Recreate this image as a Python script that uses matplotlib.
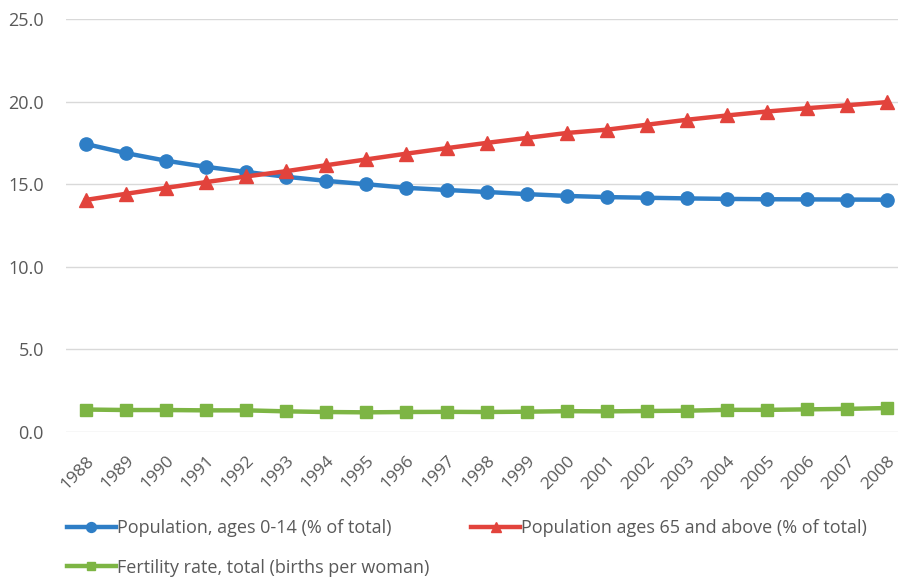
import matplotlib.pyplot as plt

plt.rcParams['font.family'] = ['Open Sans', 'DejaVu Sans']

years = list(range(1988, 2009))
ages_0_14 = [17.43, 16.88, 16.42, 16.05, 15.74, 15.45, 15.20, 15.00, 14.78, 14.65,
             14.53, 14.40, 14.29, 14.22, 14.18, 14.14, 14.11, 14.09, 14.08, 14.07, 14.06]
ages_65 = [14.05, 14.42, 14.78, 15.13, 15.47, 15.79, 16.15, 16.50, 16.85, 17.18,
           17.50, 17.80, 18.10, 18.30, 18.60, 18.90, 19.16, 19.40, 19.60, 19.78, 19.97]
fertility = [1.36, 1.33, 1.33, 1.31, 1.31, 1.25, 1.21, 1.19, 1.21, 1.22,
             1.21, 1.23, 1.26, 1.25, 1.27, 1.29, 1.34, 1.34, 1.37, 1.40, 1.45]

blue = '#2e7ec6'
red = '#e2433c'
green = '#7db544'
grey = '#595959'

fig = plt.figure(figsize=(8.98, 5.81), dpi=100)
ax = fig.add_axes([66 / 898, 1 - 432 / 581, 1 - 66 / 898, (432 - 19) / 581])

l1, = ax.plot(years, ages_0_14, '-o', color=blue, lw=3.2, ms=9.5,
              label='Population, ages 0-14 (% of total)')
l2, = ax.plot(years, ages_65, '-^', color=red, lw=3.2, ms=9.5,
              label='Population ages 65 and above (% of total)')
l3, = ax.plot(years, fertility, '-s', color=green, lw=3.2, ms=8,
              label='Fertility rate, total (births per woman)')

ax.set_ylim(0, 25)
ax.set_xlim(1987.5, 2008.27)
ax.set_yticks([0, 5, 10, 15, 20, 25])
ax.set_yticklabels(['%.1f' % v for v in [0, 5, 10, 15, 20, 25]])
ax.set_xticks(years)
ax.set_xticklabels([str(y) for y in years], rotation=45, ha='right',
                   rotation_mode='anchor')
ax.tick_params(axis='y', length=0, labelsize=13, colors=grey, pad=16)
ax.tick_params(axis='x', length=0, labelsize=12.5, colors=grey, pad=15)
ax.grid(axis='y', color='#d9d9d9', lw=1)
ax.set_axisbelow(True)
for s in ax.spines.values():
    s.set_visible(False)

leg = fig.legend([l1, l3, l2], [l1.get_label(), l3.get_label(), l2.get_label()],
                 ncol=2, loc='upper left', bbox_to_anchor=(67 / 898, 1 - 519 / 581),
                 frameon=False, fontsize=13, handlelength=2.7, numpoints=1,
                 markerscale=0.75, borderpad=0, borderaxespad=0,
                 handletextpad=0.05, columnspacing=2.35, labelspacing=1.2)
for t in leg.get_texts():
    t.set_color(grey)

fig.savefig('out.png', dpi=100)
